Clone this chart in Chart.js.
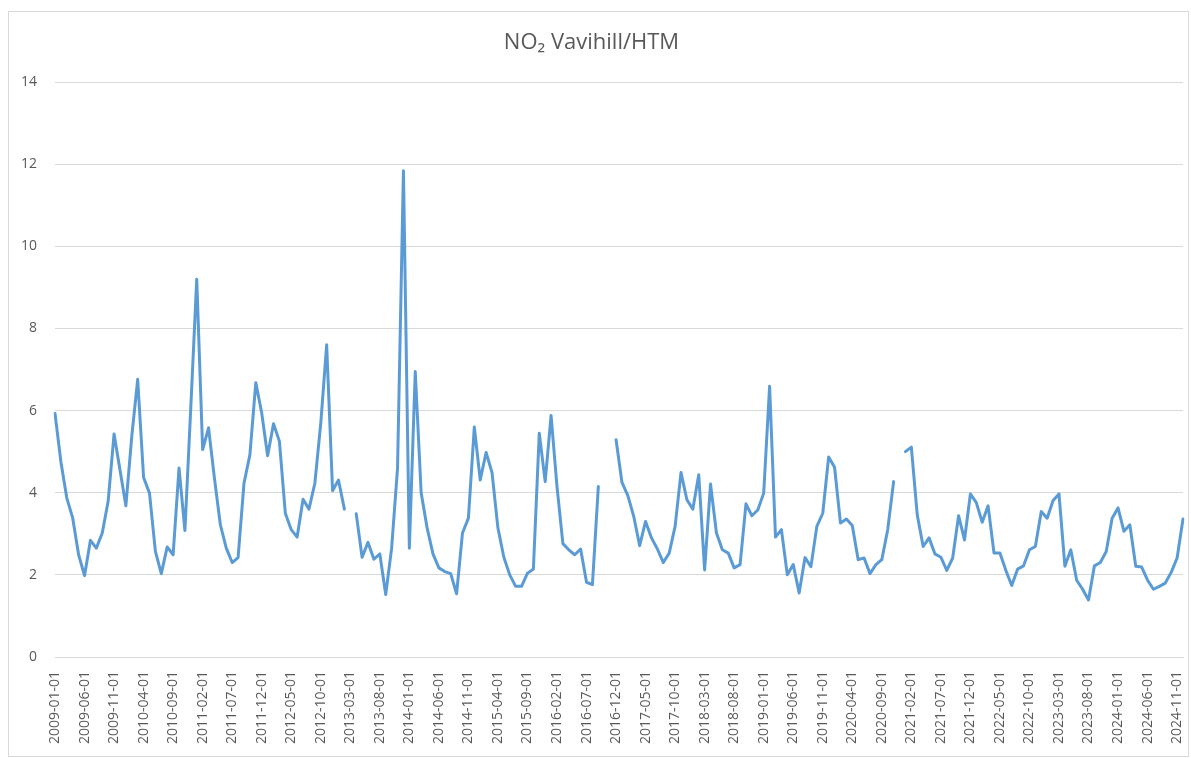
<!DOCTYPE html>
<html>
<head>
<meta charset="utf-8">
<title>NO2 Vavihill/HTM</title>
<script src="https://cdn.jsdelivr.net/npm/chart.js@4.4.1/dist/chart.umd.min.js"></script>
<style>
  html, body {
    margin: 0;
    padding: 0;
    background: #fff;
    overflow: hidden;
  }

  .chart-wrap {
    position: relative;
    width: 1191px;
    height: 758px;
  }
</style>
</head>
<body>
<div class="chart-wrap">
  <canvas id="no2Chart"></canvas>
</div>

<script>
// monthly means, 2009-01 .. 2024-12 (null = no data)
const startYear = 2009;
const endYear = 2024;

const no2Values = [
  5.93, 4.75, 3.87, 3.38, 2.49, 1.98, 2.84, 2.65, 3.02, 3.79, 5.43, 4.56, // 2009
  3.68, 5.37, 6.76, 4.37, 3.99, 2.57, 2.03, 2.68, 2.49, 4.60, 3.08, 6.10, // 2010
  9.20, 5.05, 5.58, 4.35, 3.22, 2.65, 2.30, 2.42, 4.23, 4.92, 6.68, 5.94, // 2011
  4.90, 5.68, 5.25, 3.50, 3.10, 2.92, 3.84, 3.60, 4.23, 5.69, 7.60, 4.05, // 2012
  4.31, 3.60, null, 3.49, 2.43, 2.79, 2.38, 2.51, 1.52, 2.65, 4.60, 11.84, // 2013
  2.65, 6.95, 4.00, 3.15, 2.51, 2.17, 2.08, 2.03, 1.54, 3.02, 3.38, 5.60, // 2014
  4.31, 4.98, 4.49, 3.14, 2.43, 2.00, 1.72, 1.72, 2.04, 2.14, 5.45, 4.27, // 2015
  5.88, 4.15, 2.76, 2.61, 2.49, 2.63, 1.82, 1.76, 4.15, null, null, 5.29, // 2016
  4.25, 3.93, 3.42, 2.71, 3.30, 2.90, 2.63, 2.30, 2.53, 3.18, 4.49, 3.83, // 2017
  3.60, 4.44, 2.12, 4.21, 3.02, 2.61, 2.53, 2.17, 2.25, 3.73, 3.44, 3.58, // 2018
  3.99, 6.59, 2.92, 3.10, 2.00, 2.25, 1.56, 2.42, 2.20, 3.18, 3.50, 4.87, // 2019
  4.62, 3.26, 3.36, 3.20, 2.37, 2.41, 2.03, 2.25, 2.37, 3.10, 4.27, null, // 2020
  5.00, 5.11, 3.46, 2.69, 2.90, 2.51, 2.43, 2.11, 2.41, 3.44, 2.85, 3.97, // 2021
  3.76, 3.28, 3.68, 2.53, 2.53, 2.11, 1.74, 2.14, 2.22, 2.61, 2.69, 3.54, // 2022
  3.38, 3.81, 3.97, 2.21, 2.61, 1.87, 1.65, 1.39, 2.22, 2.30, 2.57, 3.38, // 2023
  3.63, 3.06, 3.22, 2.21, 2.19, 1.87, 1.65, 1.72, 1.80, 2.06, 2.41, 3.36, // 2024
];

const yTicks = [0, 2, 4, 6, 8, 10, 12, 14];
const labelEvery = 5;

const months = [];
for (let y = startYear; y <= endYear; y++) {
  for (let m = 1; m <= 12; m++) {
    months.push(`${y}-${String(m).padStart(2, '0')}-01`);
  }
}

const textColor = '#595959';
const gridColor = '#d9d9d9';
const fontFamily = '"Open Sans", "Noto Sans", sans-serif';

// light frame round the whole chart, like the office chart area
const framePlugin = {
  id: 'frame',
  beforeDraw(chart) {
    const { ctx } = chart;
    ctx.save();
    ctx.strokeStyle = gridColor;
    ctx.lineWidth = 1;
    ctx.strokeRect(8.5, 11.5, 1180, 745);
    ctx.restore();
  },
};

new Chart(document.querySelector('#no2Chart'), {
  type: 'line',
  data: {
    labels: months,
    datasets: [
      {
        label: 'NO2',
        data: no2Values,
        borderColor: '#5b9bd5',
        backgroundColor: '#5b9bd5',
        borderWidth: 3,
        borderJoinStyle: 'round',
        borderCapStyle: 'round',
        pointRadius: 0,
        pointHoverRadius: 0,
        tension: 0,
        spanGaps: false,
      },
    ],
  },
  plugins: [framePlugin],
  options: {
    responsive: true,
    maintainAspectRatio: false,
    animation: false,

    layout: {
      padding: { left: 0, right: 8, top: 0, bottom: 0 },
    },

    plugins: {
      legend: { display: false },
      tooltip: { enabled: false },

      title: {
        display: true,
        text: 'NO₂ Vavihill/HTM',
        color: textColor,
        font: { family: fontFamily, size: 22, weight: 'normal' },
        padding: { top: 30, bottom: 25.6 },
      },
    },

    scales: {
      x: {
        grid: { display: false, drawTicks: false },
        border: { display: true, color: gridColor },

        ticks: {
          autoSkip: false,
          minRotation: 90,
          maxRotation: 90,
          padding: 14,
          color: textColor,
          font: { family: fontFamily, size: 14 },
          callback(value, index) {
            return index % labelEvery === 0 ? this.getLabelForValue(value) : null;
          },
        },

        afterFit(scale) {
          scale.height = 101;
          scale.paddingLeft = 0;
          scale.paddingRight = 0;
        },
      },

      y: {
        min: yTicks[0],
        max: yTicks[yTicks.length - 1],
        border: { display: false },

        grid: {
          color: gridColor,
          drawTicks: false,
        },

        ticks: {
          stepSize: yTicks[1] - yTicks[0],
          padding: 18,
          color: textColor,
          font: { family: fontFamily, size: 14 },
        },

        afterFit(scale) {
          scale.width = 55;
        },
      },
    },
  },
});
</script>
</body>
</html>
